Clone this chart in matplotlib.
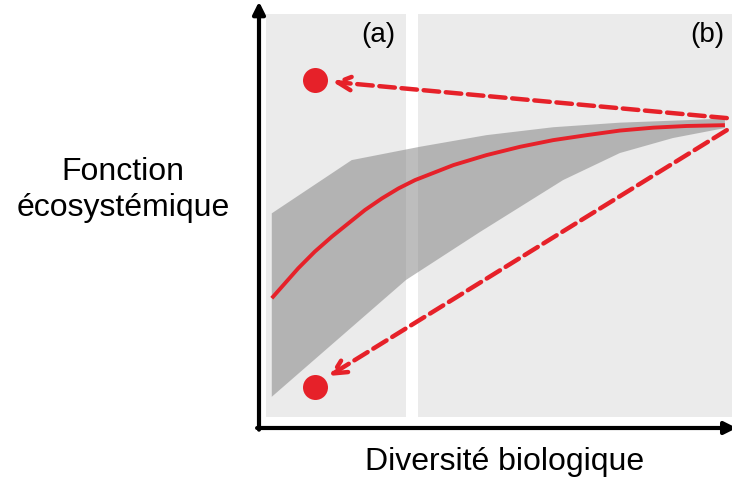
import matplotlib
matplotlib.use('Agg')
import numpy as np
import matplotlib.pyplot as plt

plt.rcParams['font.family'] = ['Liberation Sans', 'DejaVu Sans']

# band (grey envelope), axis units 0..100
band_up_x = [2.7, 19.6, 34.0, 48.1, 62.2, 76.3, 90.4, 98.5]
band_up_y = [51.6, 64.4, 67.6, 70.4, 72.3, 73.4, 74.0, 74.4]
band_lo_x = [2.7, 31.1, 46.7, 64.3, 76.3, 87.5, 98.5]
band_lo_y = [7.5, 35.6, 47.1, 59.6, 66.1, 69.7, 72.1]

# mean curve
curve_x = [2.7, 5.5, 8.3, 11.8, 15.4, 18.9, 22.4, 26.0, 29.5, 33.0, 41.1,
           48.1, 55.2, 62.2, 69.3, 76.3, 83.4, 90.4, 98.5]
curve_y = [31.2, 34.8, 38.4, 42.4, 46.0, 49.2, 52.4, 55.2, 57.6, 59.6, 63.2,
           65.6, 67.6, 69.2, 70.4, 71.5, 72.2, 72.6, 72.8]

# red points and arrows pointing to them
dots_x = [11.8, 11.8]
dots_y = [83.7, 9.9]
arrow_start = [(98.9, 74.5), (98.9, 71.6)]
arrow_end = [(15.6, 83.2), (14.8, 12.5)]

# shaded zones (a) and (b)
zones = [(1.5, 31.1), (33.6, 100.0)]
zone_labels = ['(a)', '(b)']
zone_label_x = [25.2, 94.7]

red = '#e62129'

fig = plt.figure(figsize=(7.32, 4.8), dpi=100)
ax = fig.add_axes([259 / 732, 52 / 480, 473 / 732, 416 / 480])
ax.set_xlim(0, 100)
ax.set_ylim(0, 100)

for x0, x1 in zones:
    ax.axvspan(x0, x1, ymin=0.026, ymax=0.995, color='#ebebeb', lw=0, zorder=0)

band_x = band_up_x + band_lo_x[::-1]
band_y = band_up_y + band_lo_y[::-1]
ax.fill(band_x, band_y, color='#7d7d7d', alpha=0.5, lw=0, zorder=1)

ax.plot(curve_x, curve_y, color=red, lw=2.8, solid_capstyle='butt', zorder=3)

for (xs, ys), (xe, ye) in zip(arrow_start, arrow_end):
    ax.annotate('', xy=(xe, ye), xytext=(xs, ys),
                arrowprops=dict(arrowstyle='->', color=red, lw=3.2, ls=(0, (3.5, 1.5)),
                                mutation_scale=24, shrinkA=0, shrinkB=0),
                zorder=4)

ax.plot(dots_x, dots_y, 'o', color=red, ms=18, mec='none', zorder=5)

for lab, lx in zip(zone_labels, zone_label_x):
    ax.text(lx, 94.5, lab, fontsize=20, ha='center', va='center')

# axes with arrow heads
for s in ax.spines.values():
    s.set_visible(False)
ax.set_xticks([])
ax.set_yticks([])
ax.annotate('', xy=(0, 1.025), xytext=(0, -0.004), xycoords='axes fraction',
            arrowprops=dict(arrowstyle='-|>', color='black', lw=3, mutation_scale=18,
                            shrinkA=0, shrinkB=0))
ax.annotate('', xy=(1.01, 0), xytext=(-0.004, 0), xycoords='axes fraction',
            arrowprops=dict(arrowstyle='-|>', color='black', lw=3, mutation_scale=18,
                            shrinkA=0, shrinkB=0))

fig.text(123 / 732, 1 - 190 / 480, 'Fonction\nécosystémique', fontsize=23,
         ha='center', va='center', linespacing=1.3)
fig.text(505 / 732, 1 - 462 / 480, 'Diversité biologique', fontsize=23,
         ha='center', va='center')

fig.savefig('out.png', dpi=100)
